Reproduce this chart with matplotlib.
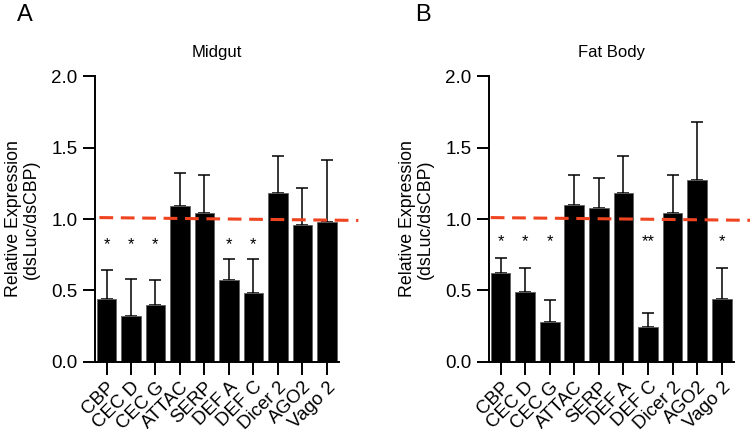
import matplotlib
matplotlib.use("Agg")
import matplotlib.pyplot as plt
import numpy as np

plt.rcParams['font.family'] = ['Liberation Sans', 'DejaVu Sans']

genes = ["CBP", "CEC D", "CEC G", "ATTAC", "SERP", "DEF A", "DEF C", "Dicer 2", "AGO2", "Vago 2"]

# midgut
midgut_mean = [0.44, 0.32, 0.40, 1.09, 1.04, 0.57, 0.48, 1.18, 0.96, 0.98]
midgut_top = [0.64, 0.58, 0.57, 1.32, 1.31, 0.72, 0.72, 1.44, 1.22, 1.41]
midgut_sig = ["*", "*", "*", "", "", "*", "*", "", "", ""]

# fat body
fat_mean = [0.62, 0.49, 0.28, 1.10, 1.08, 1.18, 0.24, 1.04, 1.27, 0.44]
fat_top = [0.73, 0.66, 0.43, 1.31, 1.29, 1.44, 0.34, 1.31, 1.68, 0.66]
fat_sig = ["*", "*", "*", "", "", "", "**", "", "", "*"]

red = "#f0431f"


def draw_panel(ax, mean, top, sig, title, star_y, line_x, letter, letter_x, ylab_x):
    x = np.arange(len(genes))
    mean = np.array(mean)
    err = np.array(top) - mean
    ax.bar(x, mean, width=0.8, color="black", edgecolor="#606060", linewidth=0.6, zorder=2)
    ax.errorbar(x, mean, yerr=[np.zeros_like(err), err], fmt="none", ecolor="black",
                elinewidth=1.1, capsize=4, capthick=1.1, zorder=1)
    for xi, s in zip(x, sig):
        if s:
            ax.text(xi, star_y, s, ha="center", va="center", fontsize=12)
    # dashed reference line
    ax.plot(line_x, [1.01, 0.99], color=red, lw=2.2, ls=(0, (4.5, 2.5)), clip_on=False, zorder=3)
    ax.set_xlim(-0.47, 9.5)
    ax.set_ylim(0, 2.0)
    ax.set_yticks([0.0, 0.5, 1.0, 1.5, 2.0])
    ax.set_yticklabels(["0.0", "0.5", "1.0", "1.5", "2.0"])
    ax.set_xticks(x)
    ax.set_xticklabels(genes, rotation=45, ha="right", rotation_mode="anchor")
    ax.tick_params(axis="y", labelsize=13.5, length=9, width=1.4, direction="out")
    ax.tick_params(axis="x", labelsize=13.5, length=9, width=1.4, direction="out", pad=3)
    for s in ["top", "right"]:
        ax.spines[s].set_visible(False)
    for s in ["left", "bottom"]:
        ax.spines[s].set_linewidth(1.4)
    ax.set_title(title, fontsize=12, pad=14)
    ax.set_ylabel("Relative Expression\n(dsLuc/dsCBP)", fontsize=12.8, linespacing=1.1)
    ax.yaxis.set_label_coords(ylab_x, 0.5)
    ax.figure.text(letter_x, 0.965, letter, fontsize=17, ha="left", va="center")


fig = plt.figure(figsize=(7.5, 4.32), dpi=100)
ax1 = fig.add_axes([0.1267, 0.1627, 0.3253, 0.6607])
ax2 = fig.add_axes([0.652, 0.1627, 0.3267, 0.6607])

draw_panel(ax1, midgut_mean, midgut_top, midgut_sig, "Midgut", 0.82,
           [-0.29, 10.29], "A", 0.022, -0.225)
draw_panel(ax2, fat_mean, fat_top, fat_sig, "Fat Body", 0.84,
           [-0.4, 10.6], "B", 0.553, -0.225)

fig.savefig("out.png", dpi=100)
